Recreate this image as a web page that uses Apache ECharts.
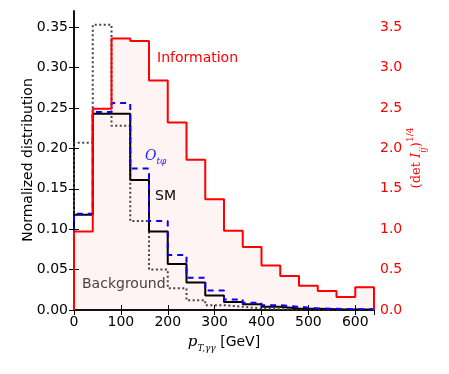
<!DOCTYPE html>
<html>
<head>
<meta charset="utf-8">
<script src="https://cdn.jsdelivr.net/npm/echarts@6/dist/echarts.min.js"></script>
<style>html,body{margin:0;padding:0;background:#fff}#c{width:449px;height:374px}</style>
</head>
<body>
<div id="c"></div>
<script>
// bin edges in GeV (pT, gamma gamma)
const binEdges = [0,40,80,120,160,200,240,280,320,360,400,440,480,520,560,600,640];
// Information (det I_ij)^(1/4), right axis
const information = [0.97,2.49,3.36,3.33,2.84,2.32,1.86,1.37,0.98,0.78,0.55,0.42,0.30,0.235,0.16,0.28];
// Normalized distributions, left axis
const smValues = [0.118,0.243,0.243,0.161,0.097,0.057,0.034,0.018,0.010,0.007,0.004,0.002,0.0015,0.001,0.0007,0.0005];
const otphiValues = [0.119,0.245,0.256,0.175,0.110,0.068,0.040,0.024,0.013,0.009,0.006,0.004,0.002,0.0015,0.001,0.001];
const backgroundValues = [0.207,0.353,0.228,0.110,0.050,0.027,0.012,0.006,0.004,0.002,0.001,0.001,0.0005,0.0003,0.0002,0.0001];

function stepPoints(vals){
  const pts=[[binEdges[0],0]];
  for(let i=0;i<vals.length;i++){
    pts.push([binEdges[i],vals[i]]);
    pts.push([binEdges[i+1],vals[i]]);
  }
  pts.push([binEdges[vals.length],0]);
  return pts;
}

const chart = echarts.init(document.getElementById('c'), null, {renderer:'canvas'});
const FONT = 'DejaVu Sans';
const SERIF = 'DejaVu Serif';
const axisLine = {show:true, lineStyle:{color:'#000', width:1.5}};
const tick = {show:true, inside:true, length:5, lineStyle:{color:'#000', width:1}};

const option = {
  animation:false,
  backgroundColor:'#fff',
  grid:{left:74, right:75, top:11, bottom:64},
  xAxis:[
    {type:'value', min:0, max:640, interval:100, position:'bottom',
     axisLine:axisLine, axisTick:tick, splitLine:{show:false},
     axisLabel:{showMaxLabel:false, fontSize:14, color:'#000', fontFamily:FONT, margin:5}},
    {type:'value', min:0, max:640, interval:100, position:'top',
     axisLine:axisLine, axisTick:tick, splitLine:{show:false},
     axisLabel:{show:false}}
  ],
  yAxis:[
    {type:'value', min:0, max:0.37, interval:0.05, position:'left',
     axisLine:axisLine, axisTick:tick, splitLine:{show:false},
     axisLabel:{showMaxLabel:false, fontSize:14, color:'#000', fontFamily:FONT, margin:6,
       formatter:v=>v.toFixed(2)}},
    {type:'value', min:0, max:3.7, interval:0.5, position:'right',
     axisLine:axisLine, axisTick:tick, splitLine:{show:false},
     axisLabel:{showMaxLabel:false, fontSize:14, color:'#ff0000', fontFamily:FONT, margin:6,
       formatter:v=>v.toFixed(1)}}
  ],
  series:[
    {type:'line', name:'Background', xAxisIndex:0, yAxisIndex:0, data:stepPoints(backgroundValues),
     showSymbol:false, z:2, lineStyle:{color:'#444444', width:2, type:[2,2.5], cap:'butt'}},
    {type:'line', name:'SM', xAxisIndex:0, yAxisIndex:0, data:stepPoints(smValues),
     showSymbol:false, z:3, lineStyle:{color:'#000000', width:2}},
    {type:'line', name:'Otphi', xAxisIndex:0, yAxisIndex:0, data:stepPoints(otphiValues),
     showSymbol:false, z:4, lineStyle:{color:'#0000ff', width:2, type:[6,5], cap:'butt'}},
    {type:'line', name:'Information', xAxisIndex:0, yAxisIndex:1, data:stepPoints(information),
     showSymbol:false, z:5, lineStyle:{color:'#ff0000', width:2},
     areaStyle:{color:'rgba(255,0,0,0.06)'}}
  ],
  graphic:[
    {type:'text', left:157, top:51, style:{text:'Information', fill:'#ff0000', font:'14px "DejaVu Sans"'}},
    {type:'text', left:155, top:189, style:{text:'SM', fill:'#000', font:'14px "DejaVu Sans"'}},
    {type:'text', left:82, top:277, style:{text:'Background', fill:'#444444', font:'14px "DejaVu Sans"'}},
    {type:'text', x:145, y:156, style:{
      text:'{o|O}{s|tφ}', align:'left', verticalAlign:'middle', fill:'#2222ff',
      rich:{
        o:{fontFamily:SERIF, fontStyle:'italic', fontSize:14, fill:'#2222ff', color:'#2222ff', lineHeight:20, verticalAlign:'middle'},
        s:{fontFamily:SERIF, fontStyle:'italic', fontSize:9, fill:'#2222ff', color:'#2222ff', lineHeight:9, verticalAlign:'bottom'}
      }}},
    {type:'text', x:28, y:160, rotation:Math.PI/2, style:{
      text:'Normalized distribution', fill:'#000', font:'14px "DejaVu Sans"', align:'center', verticalAlign:'middle'}},
    {type:'text', x:417, y:158, rotation:Math.PI/2, style:{
      text:'{m|(det }{i|I}{s|ij}{m|)}{u|1/4}', align:'center', verticalAlign:'middle', fill:'#ff0000',
      rich:{
        m:{fontFamily:SERIF, fontSize:13, fill:'#ff0000', color:'#ff0000', lineHeight:22, verticalAlign:'middle'},
        i:{fontFamily:SERIF, fontStyle:'italic', fontSize:13, fill:'#ff0000', color:'#ff0000', lineHeight:22, verticalAlign:'middle'},
        s:{fontFamily:SERIF, fontStyle:'italic', fontSize:9, fill:'#ff0000', color:'#ff0000', lineHeight:9, verticalAlign:'bottom'},
        u:{fontFamily:SERIF, fontSize:9, fill:'#ff0000', color:'#ff0000', lineHeight:9, verticalAlign:'top'}
      }}},
    {type:'text', x:224, y:342, style:{
      text:'{p|p}{s|T,γγ}{g| [GeV]}', align:'center', verticalAlign:'middle', fill:'#000',
      rich:{
        p:{fontFamily:SERIF, fontStyle:'italic', fontSize:15, fill:'#000', lineHeight:22, verticalAlign:'middle'},
        s:{fontFamily:SERIF, fontStyle:'italic', fontSize:9, fill:'#000', lineHeight:10, verticalAlign:'bottom'},
        g:{fontFamily:FONT, fontSize:14, fill:'#000', lineHeight:22, verticalAlign:'middle'}
      }}}
  ]
};
chart.setOption(option);
</script>
</body>
</html>
